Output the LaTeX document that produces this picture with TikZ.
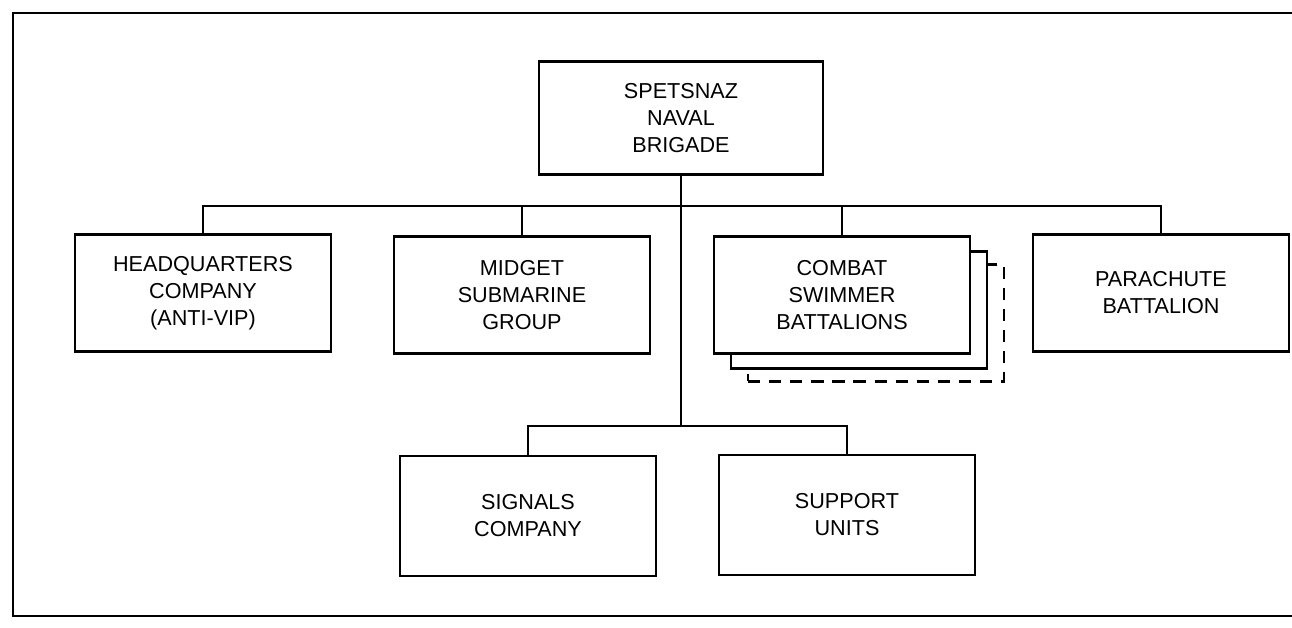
\documentclass[tikz,border=0pt]{standalone}
\usepackage{fontspec}
\setmainfont{Liberation Sans}

\tikzset{
  unit/.style={draw, line width=1.5pt, fill=white, align=center, inner sep=0pt,
    minimum width=5.12cm, minimum height=2.34cm,
    font=\fontsize{12.3}{15.4}\selectfont},
  link/.style={line width=1.4pt},
}

\begin{document}
\begin{tikzpicture}[x=0.02cm, y=-0.02cm]
    \useasboundingbox (0,0) rectangle (1292,628);

    % Outer frame, open on the right
    \draw[line width=1.6pt] (1292,13) -- (13,13) -- (13,616) -- (1292,616);

    % Top of the tree
    \node[unit, minimum width=5.68cm, minimum height=2.26cm] (brig) at (681,118) {SPETSNAZ\\NAVAL\\BRIGADE};

    % First row
    \node[unit] (hq) at (203,293) {HEADQUARTERS\\COMPANY\\(ANTI-VIP)};
    \node[unit] (midget) at (522,295) {MIDGET\\SUBMARINE\\GROUP};
    \node[unit, dashed, dash pattern=on 7pt off 5pt] (combatc) at (876,323) {}; % back copy
    \node[unit] (combatb) at (859,310) {}; % middle copy
    \node[unit] (combat) at (842,295) {COMBAT\\SWIMMER\\BATTALIONS};
    \node[unit] (para) at (1161,293) {PARACHUTE\\BATTALION};

    % Second row
    \node[unit, minimum height=2.4cm] (sig) at (528,516) {SIGNALS\\COMPANY};
    \node[unit, minimum height=2.4cm] (sup) at (847,515) {SUPPORT\\UNITS};

    % Connectors
    \coordinate (busA) at (681,206);
    \coordinate (busB) at (681,426);
    \draw[link] (brig.south) -- (busB);
    \draw[link] (hq.north) |- (busA) -| (para.north);
    \draw[link] (midget.north) -- (midget.north |- busA);
    \draw[link] (combat.north) -- (combat.north |- busA);
    \draw[link] (sig.north) |- (busB) -| (sup.north);
\end{tikzpicture}
\end{document}
